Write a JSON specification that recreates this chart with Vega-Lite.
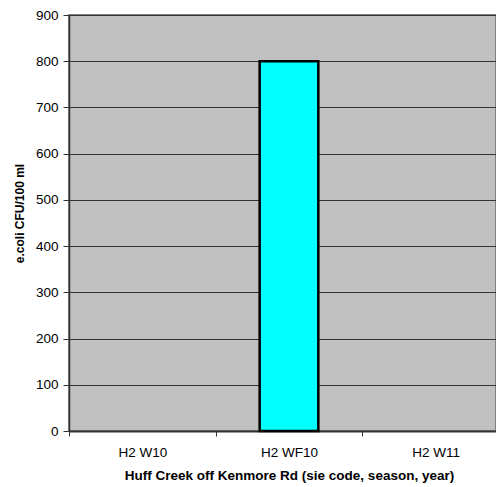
{
  "$schema": "https://vega.github.io/schema/vega-lite/v6.json",
  "width": 427,
  "height": 416,
  "autosize": {"type": "none"},
  "padding": {"left": 69, "top": 15, "right": 0, "bottom": 56},
  "background": "white",
  "config": {
    "font": "Liberation Sans",
    "view": {"fill": "#C0C0C0", "stroke": "#808080", "strokeWidth": 2}
  },
  "data": {
    "values": [
      {"site": "H2 W10", "ecoli": 0},
      {"site": "H2 WF10", "ecoli": 800},
      {"site": "H2 W11", "ecoli": 0}
    ]
  },
  "mark": {"type": "bar", "fill": "#00FFFF", "stroke": "black", "strokeWidth": 2.5, "width": {"band": 0.4}},
  "encoding": {
    "opacity": {"condition": {"test": "datum.ecoli > 0", "value": 1}, "value": 0},
    "x": {
      "field": "site",
      "type": "nominal",
      "sort": null,
      "scale": {"range": [0, 440], "paddingInner": 0, "paddingOuter": 0},
      "axis": {
        "title": "Huff Creek off Kenmore Rd (sie code, season, year)",
        "titleFontSize": 13.5,
        "titleFontWeight": "bold",
        "titleColor": "black",
        "titlePadding": 10,
        "labelAngle": 0,
        "labelFontSize": 13.5,
        "labelColor": "black",
        "labelPadding": 9,
        "tickBand": "extent",
        "tickSize": 5,
        "tickColor": "#333333",
        "domainColor": "#333333",
        "domainWidth": 2,
        "grid": false
      }
    },
    "y": {
      "field": "ecoli",
      "type": "quantitative",
      "scale": {"domain": [0, 900], "nice": false},
      "axis": {
        "title": "e.coli CFU/100 ml",
        "titleFontSize": 12,
        "titleFontWeight": "bold",
        "titleColor": "black",
        "titlePadding": 9,
        "titleY": 198,
        "values": [0, 100, 200, 300, 400, 500, 600, 700, 800, 900],
        "labelFontSize": 13.5,
        "labelColor": "black",
        "labelPadding": 5,
        "tickSize": 6,
        "tickColor": "#333333",
        "domainColor": "#333333",
        "domainWidth": 1.5,
        "grid": true,
        "gridColor": "#333333",
        "gridWidth": 1
      }
    }
  }
}
